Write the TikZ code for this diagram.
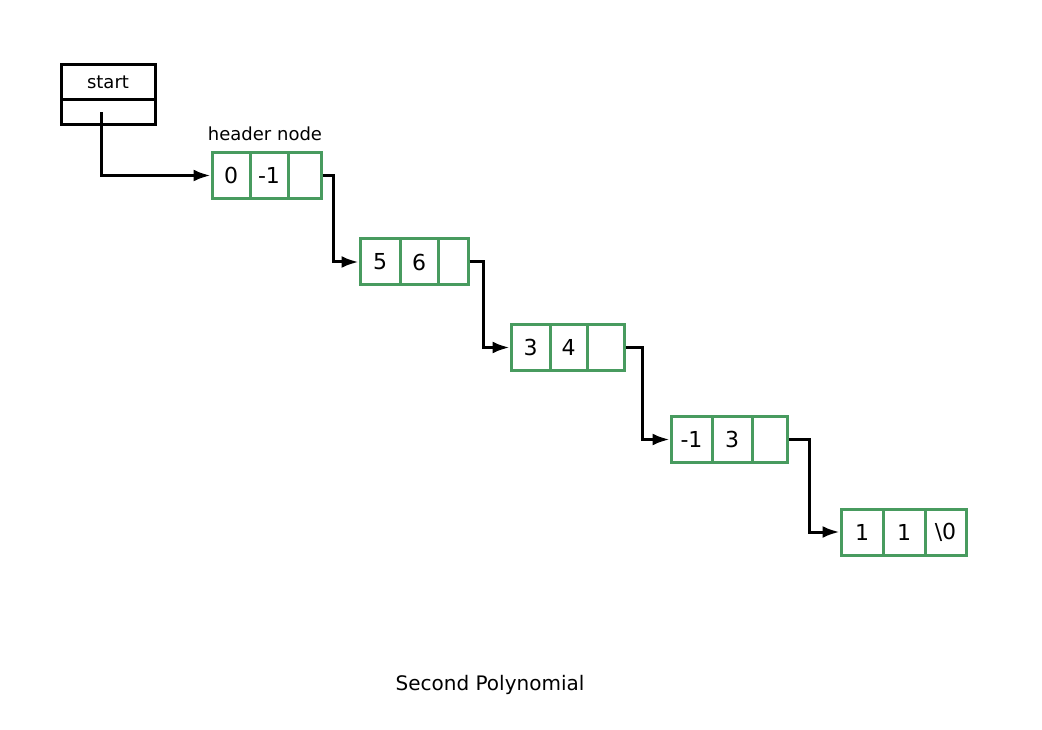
\documentclass[tikz,border=0pt]{standalone}
\usepackage{fontspec}
\setmainfont{DejaVu Sans}
\usetikzlibrary{arrows.meta}
\definecolor{cellgreen}{RGB}{72,155,95}

\begin{document}
\begin{tikzpicture}[x=1pt, y=-1pt]
\tikzstyle{cell}=[draw=cellgreen, line width=3pt, minimum height=46pt, inner sep=0pt, font=\fontsize{22}{26}\selectfont]
\tikzstyle{box}=[draw, line width=3pt, minimum width=94pt, inner sep=0pt]
\tikzstyle{link}=[line width=3pt, -{Latex[length=17pt, width=12pt]}]
\tikzstyle{caption}=[font=\fontsize{20}{24}\selectfont]
\useasboundingbox[fill=white] (0,0) rectangle (1042,730);

\node[box, minimum height=35pt, font=\fontsize{18}{21}\selectfont] (start) at (108,82.5) {start};
\node[box, minimum height=25pt] (ptr) at (108,112.5) {};
\node[caption, font=\fontsize{18}{21}\selectfont] (hdr) at (265,134) {header node};

\node[cell, minimum width=38pt] (a1) at (231,175.5) {0};
\node[cell, minimum width=38pt] (b1) at (269,175.5) {-1};
\node[cell, minimum width=33pt] (c1) at (304.5,175.5) {};

\node[cell, minimum width=40pt] (a2) at (380,262) {5};
\node[cell, minimum width=38pt] (b2) at (419,262) {6};
\node[cell, minimum width=30pt] (c2) at (453,262) {};

\node[cell, minimum width=39pt] (a3) at (530.5,347.5) {3};
\node[cell, minimum width=37pt] (b3) at (568.5,347.5) {4};
\node[cell, minimum width=37pt] (c3) at (605.5,347.5) {};

\node[cell, minimum width=41pt] (a4) at (691.5,439.5) {-1};
\node[cell, minimum width=40pt] (b4) at (732,439.5) {3};
\node[cell, minimum width=35pt] (c4) at (769.5,439.5) {};

\node[cell, minimum width=42pt] (a5) at (862,532) {1};
\node[cell, minimum width=42pt] (b5) at (904,532) {1};
\node[cell, minimum width=41pt] (c5) at (945.5,532) {\textbackslash 0};

\draw[link] ([xshift=-7pt]ptr.center) |- (a1.west);
\draw[link] (c1.east) -- ++(11,0) |- (a2.west);
\draw[link] (c2.east) -- ++(14,0) |- (a3.west);
\draw[link] (c3.east) -- ++(17,0) |- (a4.west);
\draw[link] (c4.east) -- ++(21,0) |- (a5.west);

\node[caption] (title) at (490,685) {Second Polynomial};
\end{tikzpicture}
\end{document}
